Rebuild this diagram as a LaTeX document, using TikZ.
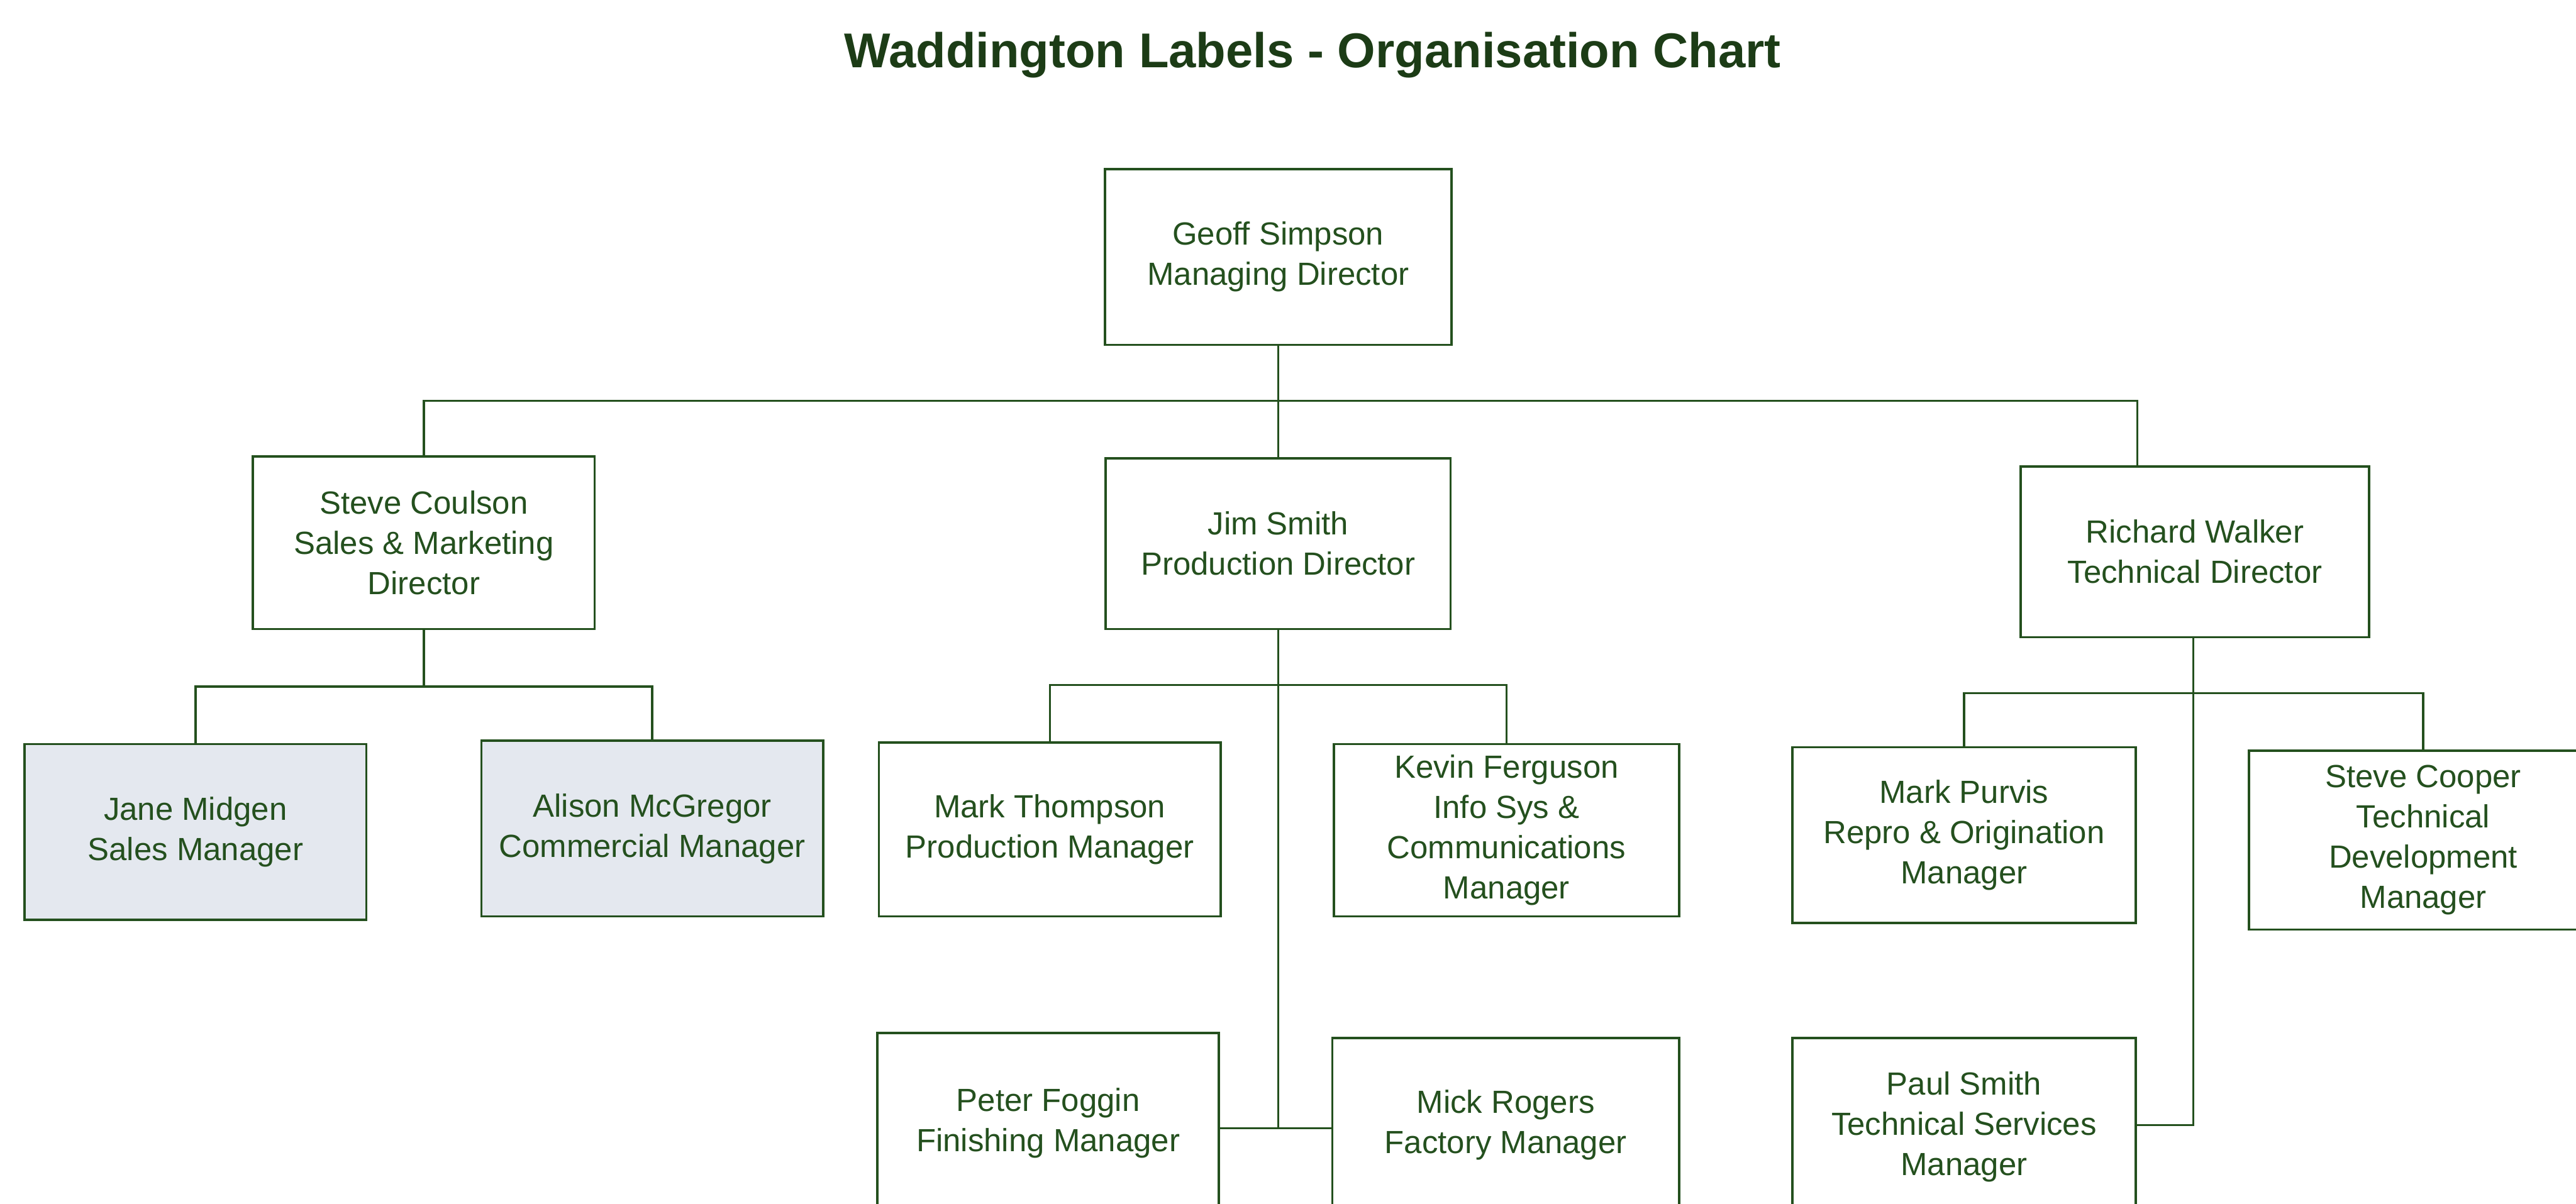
\documentclass[tikz,border=0pt]{standalone}
\usepackage{fontspec}
\setmainfont{Liberation Sans}
\usetikzlibrary{calc}
\definecolor{chartgreen}{RGB}{36,80,30}
\definecolor{titlegreen}{RGB}{28,60,22}
\definecolor{leadshade}{RGB}{228,232,239}
\begin{document}
\begin{tikzpicture}[x=1pt,y=-1pt,
  post/.style={draw=chartgreen, line width=1.4pt, rectangle, align=center,
    inner sep=0pt, fill=white, text=chartgreen,
    font=\fontsize{19.5}{24.5}\selectfont},
  lead/.style={post, fill=leadshade},
  link/.style={draw=chartgreen, line width=1.3pt}]
\clip (0,0) rectangle (1568,733);
\fill[white] (0,0) rectangle (1568,733);

% title
\node[anchor=base, text=titlegreen, font=\bfseries\fontsize{29.8}{34}\selectfont]
  (title) at (799,41) {Waddington Labels - Organisation Chart};

% board
\node[post, minimum width=211pt, minimum height=107pt] (geoff) at (778,156.5)
  {Geoff Simpson\\Managing Director};
\node[post, minimum width=208pt, minimum height=105pt] (coulson) at (258,330.5)
  {Steve Coulson\\Sales \& Marketing\\Director};
\node[post, minimum width=210pt, minimum height=104pt] (jim) at (778,331)
  {Jim Smith\\Production Director};
\node[post, minimum width=212pt, minimum height=104pt] (walker) at (1336,336)
  {Richard Walker\\Technical Director};

% sales
\node[lead, minimum width=208pt, minimum height=107pt] (jane) at (119,506.5)
  {Jane Midgen\\Sales Manager};
\node[lead, minimum width=208pt, minimum height=107pt] (alison) at (397,504.5)
  {Alison McGregor\\Commercial Manager};

% production
\node[post, minimum width=208pt, minimum height=106pt] (thompson) at (639,505)
  {Mark Thompson\\Production Manager};
\node[post, minimum width=210pt, minimum height=105pt] (ferguson) at (917,505.5)
  {Kevin Ferguson\\Info Sys \&\\Communications\\Manager};
\node[post, minimum width=208pt, minimum height=110pt] (foggin) at (638,684)
  {Peter Foggin\\Finishing Manager};
\node[post, minimum width=211pt, minimum height=106pt] (rogers) at (916.5,685)
  {Mick Rogers\\Factory Manager};

% technical
\node[post, minimum width=209pt, minimum height=107pt] (purvis) at (1195.5,508.5)
  {Mark Purvis\\Repro \& Origination\\Manager};
\node[post, minimum width=212pt, minimum height=109pt] (cooper) at (1475,511.5)
  {Steve Cooper\\Technical\\Development\\Manager};
\node[post, minimum width=209pt, minimum height=108pt] (paulsmith) at (1195.5,686)
  {Paul Smith\\Technical Services\\Manager};

% bus junctions
\coordinate (topbus) at (778,244);
\coordinate (salesbus) at (258,418);
\coordinate (prodbus) at (778,417);
\coordinate (prodjoin) at (778,687);
\coordinate (techbus) at (1335,422);
\coordinate (techjoin) at (1335,685);

% connectors
\draw[link] (geoff.south) -- (jim.north);
\draw[link] (coulson.north) |- (topbus) -| ([xshift=-35pt]walker.north);

\draw[link] (coulson.south) -- (salesbus);
\draw[link] (jane.north) |- (salesbus) -| (alison.north);

\draw[link] (jim.south) -- (prodjoin);
\draw[link] (thompson.north) |- (prodbus) -| (ferguson.north);
\draw[link] (foggin.east |- prodjoin) -- (rogers.west |- prodjoin);

\draw[link] ([xshift=-1pt]walker.south) -- (techjoin) -- (paulsmith.east |- techjoin);
\draw[link] (purvis.north) |- (techbus) -| (cooper.north);
\end{tikzpicture}
\end{document}
